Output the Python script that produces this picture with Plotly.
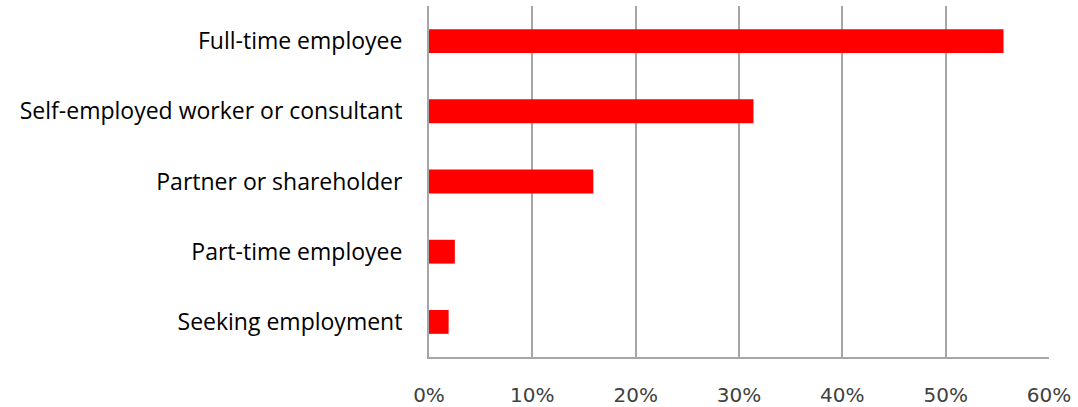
import plotly.graph_objects as go

categories = ["Full-time employee", "Self-employed worker or consultant",
              "Partner or shareholder", "Part-time employee", "Seeking employment"]
values = [55.6, 31.4, 15.9, 2.5, 1.9]
tick_vals = [0, 10, 20, 30, 40, 50, 60]
tick_text = ["0%", "10%", "20%", "30%", "40%", "50%", "60%"]

fig = go.Figure(go.Bar(
    y=categories, x=values, orientation="h",
    marker=dict(color="#ff0000", line=dict(width=0)),
))

fig.update_layout(
    width=1078, height=407,
    margin=dict(l=429, r=29, t=6, b=50),
    paper_bgcolor="white", plot_bgcolor="white",
    bargap=0.66, showlegend=False,
)
fig.update_xaxes(
    range=[0, 60], tickvals=tick_vals, ticktext=tick_text,
    showgrid=True, gridcolor="#a6a6a6", gridwidth=2,
    showline=True, linecolor="#a6a6a6", linewidth=2,
    zeroline=False, ticks="", ticklabelstandoff=19, automargin=False,
    tickfont=dict(family="DejaVu Sans", size=20, color="#404040"),
    fixedrange=True,
)
fig.update_yaxes(
    autorange="reversed",
    showline=True, linecolor="#a6a6a6", linewidth=2,
    showgrid=False, ticks="", ticklabelstandoff=20, automargin=False,
    tickfont=dict(family="Open Sans", size=23, color="#000000"),
    fixedrange=True,
)

fig.write_html("out.html")
